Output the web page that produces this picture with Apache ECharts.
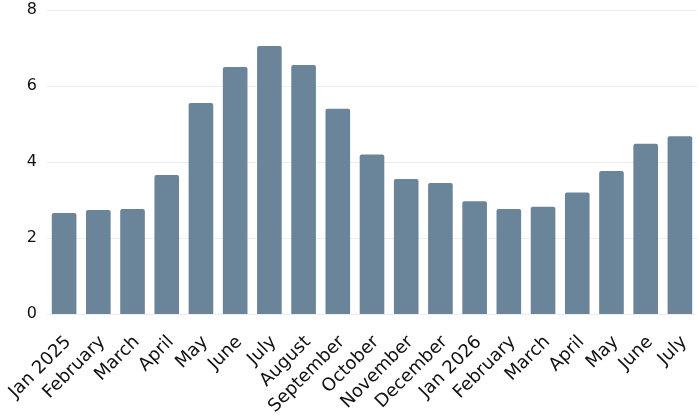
<!DOCTYPE html>
<html>
<head>
<meta charset="utf-8">
<script src="https://cdn.jsdelivr.net/npm/echarts@6/dist/echarts.min.js"></script>
<style>
    html, body { margin: 0; padding: 0; background: #fff; }
    #chart { width: 699px; height: 420px; }
</style>
</head>
<body>
<div id="chart"></div>
<script>
// monthly categories and bar heights
const months = ['Jan 2025', 'February', 'March', 'April', 'May', 'June', 'July', 'August',
    'September', 'October', 'November', 'December', 'Jan 2026', 'February', 'March',
    'April', 'May', 'June', 'July']
const values = [2.66, 2.74, 2.76, 3.66, 5.55, 6.5, 7.05, 6.55, 5.4, 4.2, 3.55, 3.45,
    2.97, 2.76, 2.82, 3.2, 3.76, 4.48, 4.68]

const font = '"DejaVu Sans", sans-serif'
const myChart = echarts.init(document.getElementById('chart'), null, { renderer: 'canvas' })

const option = {
    animation: false,
    grid: {
        left: 47,
        right: 2,
        top: 10,
        bottom: 106,
        outerBoundsMode: 'none'
    },
    xAxis: {
        type: 'category',
        data: months,
        axisLine: { show: false },
        axisTick: { show: false },
        axisLabel: {
            rotate: 45,
            interval: 0,
            margin: 21,
            verticalAlign: 'top',
            lineHeight: 12,
            color: '#111',
            fontSize: 18,
            fontFamily: font
        }
    },
    yAxis: {
        type: 'value',
        min: 0,
        max: 8,
        interval: 2,
        axisLine: { show: false },
        axisTick: { show: false },
        axisLabel: {
            margin: 10,
            color: '#111',
            fontSize: 16,
            fontFamily: font
        },
        splitLine: { lineStyle: { color: '#eeeeee', width: 1 } }
    },
    series: [{
        type: 'bar',
        data: values,
        barCategoryGap: '28%',
        itemStyle: {
            color: '#6a8599',
            borderRadius: [2, 2, 0, 0]
        }
    }]
}

myChart.setOption(option)
</script>
</body>
</html>
